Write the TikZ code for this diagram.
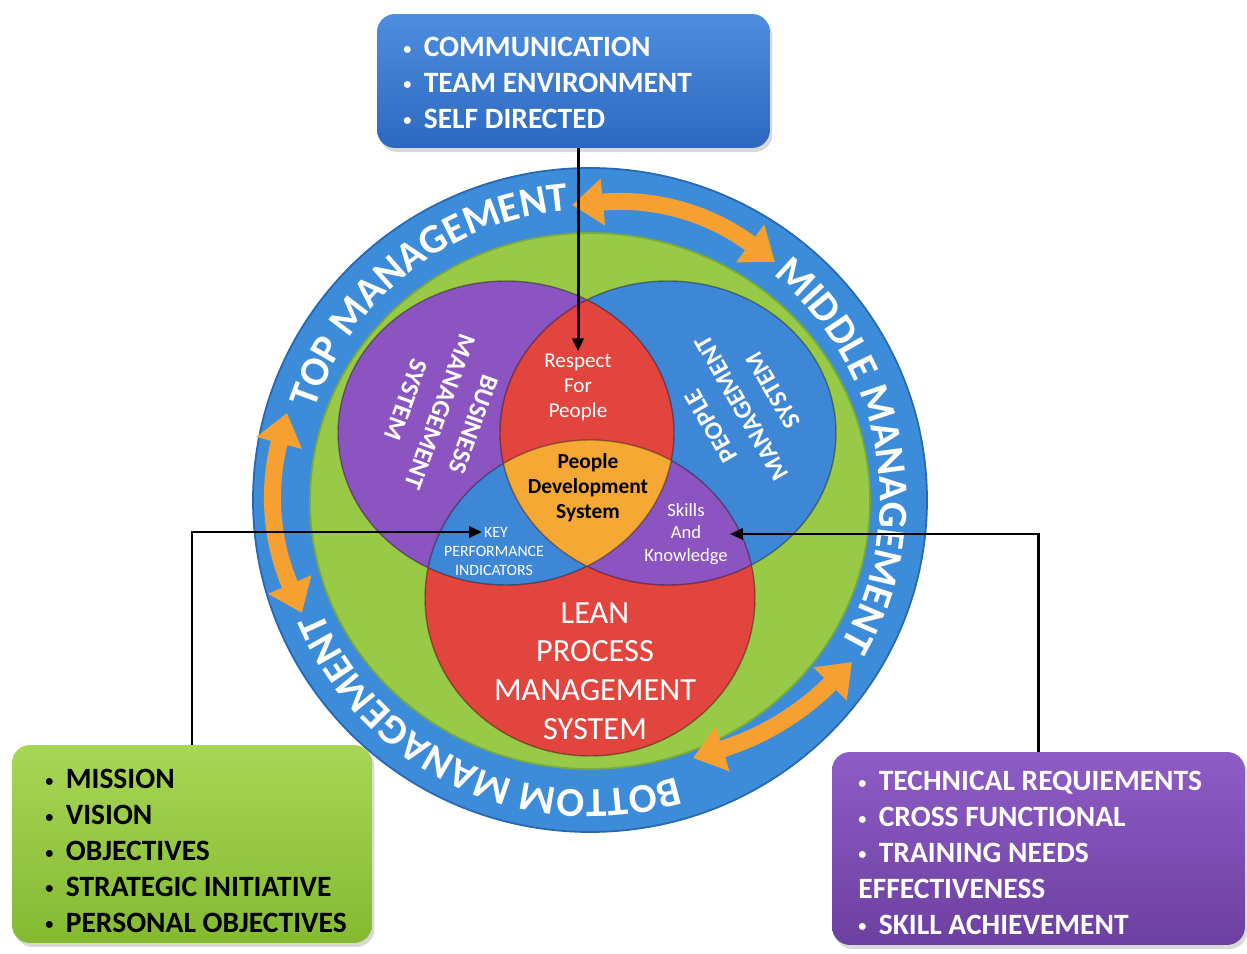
\documentclass[tikz,border=0pt]{standalone}
\usepackage{fontspec}
\usepackage{graphicx}
\setmainfont{Carlito}
\usetikzlibrary{arrows.meta,decorations.text,shadows,calc}

\definecolor{ringblue}{RGB}{60,140,218}
\definecolor{ringedge}{RGB}{40,104,178}
\definecolor{innergreen}{RGB}{152,202,72}
\definecolor{greenedge}{RGB}{120,170,60}
\definecolor{bizpurple}{RGB}{140,84,192}
\definecolor{pplblue}{RGB}{62,134,214}
\definecolor{leanred}{RGB}{226,68,62}
\definecolor{pdsorange}{RGB}{246,168,52}
\definecolor{arroworange}{RGB}{246,160,50}
\definecolor{topblue}{RGB}{44,104,192}
\definecolor{topbluelight}{RGB}{78,142,222}
\definecolor{goalgreen}{RGB}{132,186,50}
\definecolor{goalgreenlight}{RGB}{168,214,86}
\definecolor{skillpurple}{RGB}{108,64,160}
\definecolor{skillpurplelight}{RGB}{142,92,198}

\newcommand\ringfont{\fontsize{23.5}{28}\selectfont\bfseries}
\newcommand\listfont{\fontsize{16.8}{20.4}\selectfont\bfseries}
\newcommand\dotitem{\raisebox{0.18ex}{\scalebox{0.55}{•}}\hspace{0.42em}}

\def\bizset{(506,520) ellipse [x radius=168, y radius=152]}
\def\pplset{(668,520) ellipse [x radius=168, y radius=152]}
\def\leanset{(590,355) ellipse [x radius=165, y radius=158]}

\tikzset{
  listbox/.style={rounded corners=0.36cm, inner sep=0pt,
    drop shadow={opacity=0.3, shadow xshift=0.05cm, shadow yshift=-0.08cm}},
  listtext/.style={inner sep=0pt, align=left, font=\listfont},
  venntext/.style={text=white, align=center, inner sep=1pt},
  ringlabel/.style={decorate, decoration={text along path,
    text={|\ringfont|#1}, text align=center, text color=white}},
  ringarrow/.style={draw=arroworange, line width=0.34cm,
    {Triangle[width=0.9cm,length=0.62cm]}-{Triangle[width=0.9cm,length=0.62cm]}},
  link/.style={line width=1.7pt, -{Triangle[length=0.26cm,width=0.22cm]}}
}

\begin{document}
\begin{tikzpicture}[x=0.02cm, y=0.02cm]
\useasboundingbox (0,0) rectangle (1247,953);
\coordinate (ctr) at (590,453);

\filldraw[fill=ringblue, draw=ringedge, line width=1pt] (ctr) ellipse [x radius=337, y radius=332];
\filldraw[fill=innergreen, draw=greenedge, line width=1pt] (590,452) ellipse [x radius=280, y radius=268];

\fill[bizpurple] \bizset;
\fill[pplblue] \pplset;
\fill[leanred] \leanset;
\begin{scope}
  \clip \bizset;
  \fill[pplblue] \leanset;
  \fill[leanred] \pplset;
\end{scope}
\begin{scope}
  \clip \pplset;
  \fill[bizpurple] \leanset;
\end{scope}
\begin{scope}
  \clip \bizset;
  \clip \pplset;
  \fill[pdsorange] \leanset;
\end{scope}
\draw[black, opacity=0.35, line width=0.8pt] \bizset \pplset \leanset;

\node[venntext, rotate=-110, font=\fontsize{14.5}{20.4}\selectfont\bfseries] (biz) at (440,541) {BUSINESS\\MANAGEMENT\\SYSTEM};
\node[venntext, rotate=120, font=\fontsize{14.5}{20.4}\selectfont\bfseries] (ppl) at (742,545) {PEOPLE\\MANAGEMENT\\SYSTEM};
\node[venntext, font=\fontsize{12}{14.2}\selectfont] (respect) at (578,566) {Respect\\For\\People};
\node[align=center, inner sep=1pt, font=\fontsize{12.2}{14.2}\selectfont\bfseries] (pds) at (588,465) {People\\Development\\System};
\node[venntext, font=\fontsize{9}{11}\selectfont] (key) at (496,421) {KEY};
\node[venntext, font=\fontsize{9}{11}\selectfont] (kpi) at (494,392) {PERFORMANCE\\INDICATORS};
\node[venntext, font=\fontsize{10.6}{13}\selectfont] (skills) at (686,419) {Skills\\And\\Knowledge};
\node[venntext, font=\fontsize{18.4}{22.1}\selectfont] (lean) at (595,282) {LEAN\\PROCESS\\MANAGEMENT\\SYSTEM};

\path[ringlabel=TOP MANAGEMENT] ($(ctr)+(188:290)$) arc[start angle=188, end angle=68, radius=290];
\path[ringlabel=MIDDLE MANAGEMENT] ($(ctr)+(70:290)$) arc[start angle=70, end angle=-49, radius=290];
\path[ringlabel=BOTTOM MANAGEMENT] ($(ctr)+(-55:290)$) arc[start angle=-55, end angle=-175, radius=290];

\coordinate (a1) at (572,748);
\coordinate (b1) at (775,691);
\coordinate (a2) at (287,540);
\coordinate (b2) at (302,340);
\coordinate (a3) at (693,195);
\coordinate (b3) at (852,291);
\draw[ringarrow] (a1) to[bend left=21] (b1);
\draw[ringarrow] (a2) to[bend right=19] (b2);
\draw[ringarrow] (a3) to[bend right=14] (b3);

\node[listbox, top color=topbluelight, bottom color=topblue, minimum width=7.86cm, minimum height=2.68cm] (topbox) at (573.5,872) {};
\node[listtext, text=white, anchor=west] (toplist) at (403,870) {\dotitem COMMUNICATION\\\dotitem TEAM ENVIRONMENT\\\dotitem SELF DIRECTED};

\node[listbox, top color=goalgreenlight, bottom color=goalgreen, minimum width=7.2cm, minimum height=3.96cm] (goalbox) at (192,109) {};
\node[listtext, anchor=west] (goallist) at (45,102) {\dotitem MISSION\\\dotitem VISION\\\dotitem OBJECTIVES\\\dotitem STRATEGIC INITIATIVE\\\dotitem PERSONAL OBJECTIVES};

\node[listbox, top color=skillpurplelight, bottom color=skillpurple, minimum width=8.26cm, minimum height=3.86cm] (skillbox) at (1038.5,104.5) {};
\node[listtext, text=white, anchor=west] (skilllist) at (858,100) {\dotitem TECHNICAL REQUIEMENTS\\\dotitem CROSS FUNCTIONAL\\\dotitem TRAINING NEEDS\\EFFECTIVENESS\\\dotitem SKILL ACHIEVEMENT};

\draw[link] (topbox.south -| respect.north) -- (respect.north);
\draw[link] (goalbox.north) |- (key.west);
\draw[link] (skillbox.north) |- (skills.east);
\end{tikzpicture}
\end{document}
